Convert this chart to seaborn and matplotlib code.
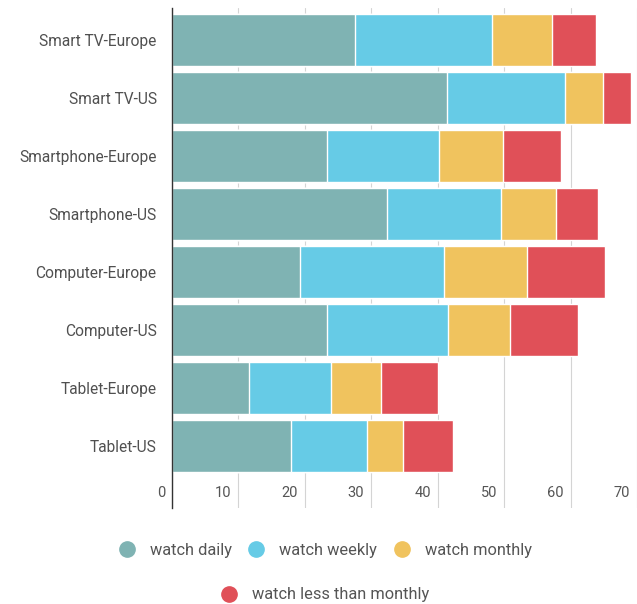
import numpy as np
import pandas as pd
import matplotlib
matplotlib.use("Agg")
import matplotlib.pyplot as plt
import matplotlib.transforms as mtransforms
from matplotlib.lines import Line2D
import seaborn as sns

# data
devices = ["Smart TV-Europe", "Smart TV-US", "Smartphone-Europe", "Smartphone-US",
           "Computer-Europe", "Computer-US", "Tablet-Europe", "Tablet-US"]
watch_daily = [27.6, 41.4, 23.3, 32.4, 19.2, 23.3, 11.6, 17.9]
watch_weekly = [20.6, 17.8, 16.9, 17.2, 21.8, 18.3, 12.4, 11.5]
watch_monthly = [9.0, 5.7, 9.7, 8.2, 12.5, 9.3, 7.5, 5.3]
watch_less = [6.6, 4.2, 8.6, 6.3, 11.7, 10.2, 8.6, 7.6]
series_names = ["watch daily", "watch weekly", "watch monthly", "watch less than monthly"]
x_ticks = [0, 10, 20, 30, 40, 50, 60, 70]

colors = ["#7fb3b3", "#66cbe6", "#f0c35e", "#e05058"]

df = pd.DataFrame({
    "device": devices,
    "watch daily": watch_daily,
    "watch weekly": watch_weekly,
    "watch monthly": watch_monthly,
    "watch less than monthly": watch_less,
})
cum = df[series_names].cumsum(axis=1)
cum["device"] = df["device"]

sns.set_style("white")
plt.rcParams["font.family"] = ["Roboto", "DejaVu Sans"]

fig = plt.figure(figsize=(6.37, 6.04), dpi=100)
ax = fig.add_axes([172 / 637, 1 - 508 / 604, 1 - 172 / 637, 500 / 604])

# stacked bars: draw cumulative totals from the largest layer down
for name, col in reversed(list(zip(series_names, colors))):
    sns.barplot(data=cum, x=name, y="device", color=col, orient="h",
                width=0.9, saturation=1, ax=ax, zorder=2)

ax.set_xlim(0, 70.0)
ax.set_ylim(8.07, -0.55)
ax.set_xlabel("")
ax.set_ylabel("")

ax.set_xticks(x_ticks)
ax.set_xticklabels([str(t) for t in x_ticks], ha="right", color="#555555", fontsize=10.5)
ax.tick_params(axis="x", length=0, pad=-16)
ax.tick_params(axis="y", length=0, pad=11, labelsize=11.2, labelcolor="#505050")

ax.grid(axis="x", color="#d4d4d4", linewidth=0.8, zorder=0)
ax.set_axisbelow(True)
for s in ["top", "right", "bottom"]:
    ax.spines[s].set_visible(False)
ax.spines["left"].set_color("#333333")
ax.spines["left"].set_linewidth(1.0)
ax.spines["left"].set_zorder(3)

handles = [Line2D([], [], marker="o", linestyle="", markersize=11,
                  markerfacecolor=c, markeredgecolor=c) for c in colors]
leg_kw = dict(frameon=False, fontsize=11.8, handletextpad=0.9, columnspacing=1.0,
              labelcolor="#555555", handlelength=1.0)
fig.legend(handles[:3], series_names[:3], loc="center", ncol=3,
           bbox_to_anchor=(325 / 637, 1 - 550 / 604), **leg_kw)
fig.legend(handles[3:], series_names[3:], loc="center", ncol=1,
           bbox_to_anchor=(325 / 637, 1 - 595 / 604), **leg_kw)

# x labels sit just left of their grid line, as in the original
fig.canvas.draw()
offset = mtransforms.ScaledTranslation(-7 / 100, 0, fig.dpi_scale_trans)
for tick in ax.xaxis.get_major_ticks():
    tick.label1.set_transform(tick.label1.get_transform() + offset)

fig.savefig("out.png", dpi=100)
